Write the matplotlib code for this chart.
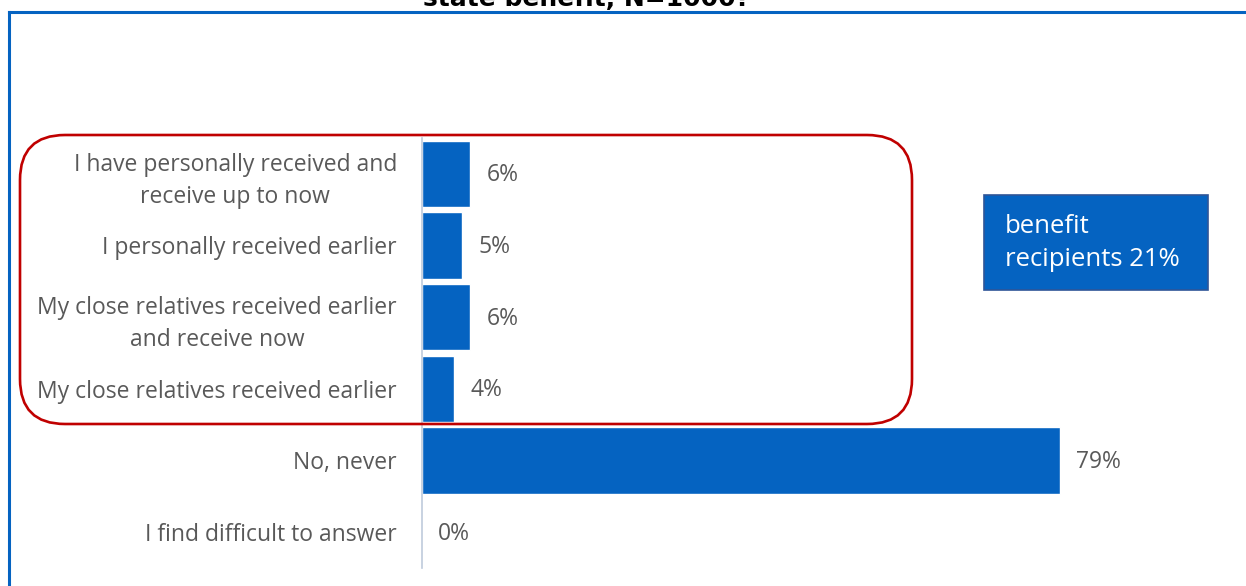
import matplotlib.pyplot as plt
from matplotlib.patches import FancyBboxPatch, Rectangle
from matplotlib.lines import Line2D

# Survey answers and shares (%)
categories = [
    "I have personally received and\nreceive up to now",
    "I personally received earlier",
    "My close relatives received earlier\nand receive now",
    "My close relatives received earlier",
    "No, never",
    "I find difficult to answer",
]
values = [6, 5, 6, 4, 79, 0]
recipient_rows = 4  # first four answers count as benefit recipients

title = "state benefit, N=1000?"
blue = "#0563C1"
grey = "#595959"

plt.rcParams['font.family'] = ['Open Sans', 'DejaVu Sans']

fig = plt.figure(figsize=(12.46, 5.86), dpi=100)
ax = fig.add_axes([422 / 1246, 18 / 586, 824 / 1246, 430 / 586])

y = range(len(categories))
ax.barh(y, values, height=0.93, color=blue, edgecolor="white", linewidth=1)
ax.set_xlim(0, 824 / 8.076)
ax.set_ylim(len(categories) - 0.5, -0.5)

for i, v in enumerate(values):
    ax.text(v + 2.0, i + 0.02, f"{v}%", va="center", ha="left", fontsize=16.5, color=grey)

ax.set_yticks(list(y))
ax.set_yticklabels(categories, fontsize=16.5, color=grey, linespacing=1.45)
for lab in ax.get_yticklabels():
    lab.set_multialignment("center")
ax.tick_params(axis="y", length=0, pad=18)
ax.set_xticks([])
for side in ["top", "right", "bottom"]:
    ax.spines[side].set_visible(False)
ax.spines["left"].set_color("#BFCBDC")
ax.spines["left"].set_linewidth(1.2)

inch = fig.dpi_scale_trans

# outer frame (top and left edges visible)
fig.add_artist(Line2D([0.09, 12.6], [5.74, 5.74], transform=inch, color=blue, lw=2.2))
fig.add_artist(Line2D([0.09, 0.09], [-0.1, 5.74], transform=inch, color=blue, lw=2.2))

# title, cut by the top edge
fig.text(5.87, 5.80, title, transform=inch, ha="center", va="baseline",
         fontsize=18, fontweight="bold", family="DejaVu Sans", color="black")

# rounded box around the recipient answers
fig.add_artist(FancyBboxPatch((0.20, 1.62), 8.92, 2.89,
                              boxstyle="round,pad=0,rounding_size=0.45",
                              transform=inch, facecolor="none",
                              edgecolor="#C00000", linewidth=1.9))

# summary box
total = sum(values[:recipient_rows])
fig.add_artist(Rectangle((9.84, 2.96), 2.24, 0.95, transform=inch,
                         facecolor=blue, edgecolor="#2F5597", linewidth=1.2))
fig.text(10.05, 3.43, f"benefit\nrecipients {total}%", transform=inch,
         ha="left", va="center", fontsize=18.5, color="white", linespacing=1.4)

fig.savefig("out.png", dpi=100)
